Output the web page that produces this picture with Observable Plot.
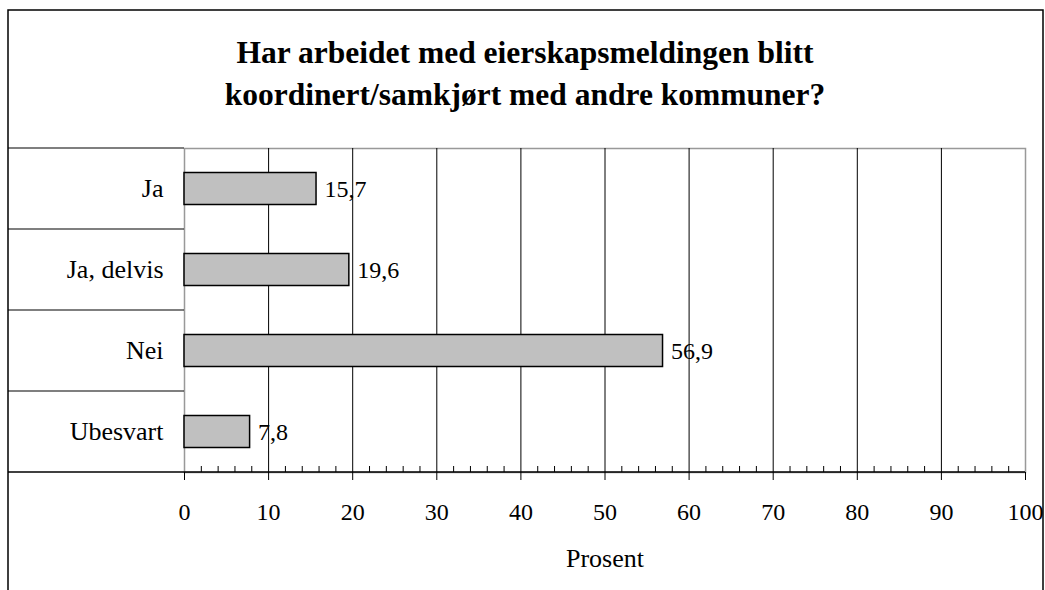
<!DOCTYPE html>
<html>
<head>
<meta charset="utf-8">
<script src="https://cdn.jsdelivr.net/npm/d3@7"></script>
<script src="https://cdn.jsdelivr.net/npm/@observablehq/plot@0.6"></script>
<style>
  html, body { margin: 0; padding: 0; background: white; }
  #chart svg, #chart svg text { font-family: "Liberation Serif", "Times New Roman", serif !important; }
</style>
</head>
<body>
<div id="chart"></div>
<script>
const titleLines = ["Har arbeidet med eierskapsmeldingen blitt", "koordinert/samkjørt med andre kommuner?"];
const categories = ["Ja", "Ja, delvis", "Nei", "Ubesvart"];
const values = [15.7, 19.6, 56.9, 7.8];
const majorTicks = [0, 10, 20, 30, 40, 50, 60, 70, 80, 90, 100];
const minorTicks = d3.range(0, 101, 2).filter(d => d % 10 !== 0);
const gridTicks = majorTicks.filter(d => d > 0 && d < 100);
const xLabel = "Prosent";

const data = categories.map((c, i) => ({category: c, value: values[i]}));
const fmt = v => v.toFixed(1).replace(".", ",");

const W = 1045, H = 590;
const mL = 184, mR = 20, mT = 148, mB = 118;
const plotH = H - mT - mB;
const bandH = plotH / categories.length;
const barH = 32;
const inset = (bandH - barH) / 2;
const serif = "Liberation Serif";

// decoration: outer frame and category boxes
function boxes(index, scales, values, dims) {
  const g = d3.create("svg:g");
  const left = 8, top = 10, right = 1043;
  const yb = dims.marginTop + plotH;
  const xr = dims.width - dims.marginRight;
  g.append("path")
    .attr("d", `M${left},${H + 5}V${top}H${right}V${H + 5}`)
    .attr("fill", "none").attr("stroke", "black").attr("stroke-width", 1.5);
  for (const c of categories) {
    const y = scales.y(c);
    g.append("line").attr("x1", left).attr("x2", dims.marginLeft)
      .attr("y1", y).attr("y2", y).attr("stroke", "black").attr("stroke-width", 1.2);
  }
  g.append("line").attr("x1", left).attr("x2", xr)
    .attr("y1", yb).attr("y2", yb).attr("stroke", "black").attr("stroke-width", 1.5);
  return g.node();
}

const chart = Plot.plot({
  width: W,
  height: H,
  marginLeft: mL,
  marginRight: mR,
  marginTop: mT,
  marginBottom: mB,
  style: {fontFamily: serif, fontSize: "24px", background: "white", color: "black"},
  x: {domain: [0, 100], label: null},
  y: {domain: categories, padding: 0, label: null, axis: null},
  marks: [
    Plot.frame({stroke: "#999", strokeWidth: 1.5}),
    Plot.ruleX(gridTicks, {stroke: "black", strokeWidth: 1}),
    Plot.tickX(minorTicks, {x: d => d, insetTop: plotH - 6, stroke: "black", strokeWidth: 1}),
    boxes,
    Plot.axisX(majorTicks, {tickSize: 8, tickPadding: 22, fontSize: 24, fontFamily: serif, label: null, stroke: "black", strokeWidth: 1}),
    Plot.barX(data, {x: "value", y: "category", fill: "#c0c0c0", stroke: "black", strokeWidth: 1.5, insetTop: inset, insetBottom: inset}),
    Plot.text(data, {x: "value", y: "category", text: d => fmt(d.value), textAnchor: "start", dx: 8, fontSize: 24, fontFamily: serif}),
    Plot.text(data, {y: "category", text: "category", frameAnchor: "left", textAnchor: "end", dx: -21, fontSize: 26, fontFamily: serif}),
    Plot.text([titleLines[0]], {frameAnchor: "top", lineAnchor: "middle", dx: -80, dy: -96, fontSize: 31.5, fontWeight: "bold", fontFamily: serif}),
    Plot.text([titleLines[1]], {frameAnchor: "top", lineAnchor: "middle", dx: -80, dy: -54, fontSize: 31.5, fontWeight: "bold", fontFamily: serif}),
    Plot.text([xLabel], {frameAnchor: "bottom", lineAnchor: "middle", dy: 86, fontSize: 26, fontFamily: serif})
  ]
});
document.getElementById("chart").appendChild(chart);
</script>
</body>
</html>
